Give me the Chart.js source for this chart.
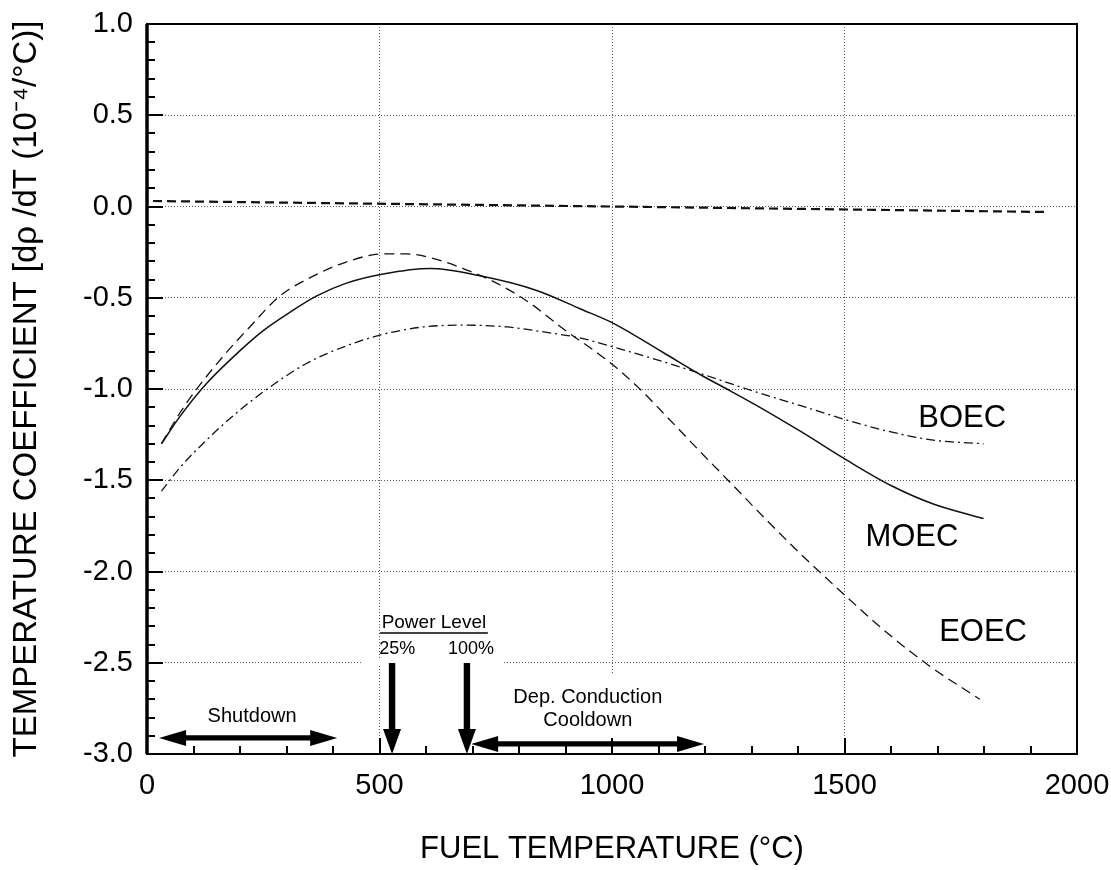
<!DOCTYPE html>
<html>
<head>
    <title>Fuel Temperature Coefficient</title>
    <script src="https://cdn.jsdelivr.net/npm/chart.js@4"></script>
    <style>
        body { margin: 0; background: #fff; }
        canvas { display: block; }
    </style>
</head>
<body>
    <canvas id="coefChart" width="1111" height="870"></canvas>

    <script>
        // values (fuel temperature in °C, coefficient in 1e-4/°C)
        const boecT = [31, 71, 128, 193, 264, 343, 422, 508, 594, 680, 774, 860, 931, 1003, 1110, 1196, 1290, 1404, 1505, 1591, 1691, 1799];
        const boecV = [-1.56, -1.43, -1.28, -1.13, -0.99, -0.86, -0.77, -0.70, -0.66, -0.65, -0.66, -0.69, -0.72, -0.77, -0.85, -0.92, -1.00, -1.09, -1.17, -1.23, -1.28, -1.30];

        const moecT = [31, 71, 128, 200, 250, 307, 365, 429, 508, 609, 716, 838, 931, 1003, 1110, 1196, 1247, 1304, 1404, 1505, 1601, 1691, 1799];
        const moecV = [-1.30, -1.15, -0.97, -0.79, -0.68, -0.58, -0.49, -0.42, -0.37, -0.34, -0.38, -0.46, -0.56, -0.64, -0.80, -0.93, -1.00, -1.08, -1.23, -1.39, -1.53, -1.63, -1.71];

        const eoecT = [31, 71, 107, 164, 221, 286, 351, 422, 508, 558, 609, 680, 752, 824, 895, 967, 1003, 1060, 1121, 1196, 1261, 1333, 1404, 1454, 1505, 1584, 1684, 1791];
        const eoecV = [-1.30, -1.13, -1.00, -0.82, -0.66, -0.49, -0.39, -0.31, -0.26, -0.26, -0.28, -0.34, -0.42, -0.53, -0.67, -0.80, -0.87, -1.00, -1.16, -1.36, -1.53, -1.72, -1.90, -2.02, -2.14, -2.32, -2.52, -2.70];

        const refT = [13, 1000, 1930];
        const refV = [0.03, 0.0, -0.03];

        const curveNames = ['BOEC', 'MOEC', 'EOEC'];

        const FONT = "'Liberation Sans', Arial, sans-serif";

        function pts(xs, ys) {
            return xs.map((x, i) => ({ x: x, y: ys[i] }));
        }

        // labels, arrows etc. are placed in data units and converted through the scales
        const overlay = {
            id: 'overlay',
            beforeDatasetsDraw(chart) {
                const ctx = chart.ctx;
                const xs = chart.scales.x, ys = chart.scales.y;
                ctx.save();
                ctx.fillStyle = '#fff';
                // breaks in the grid behind the annotations
                ctx.fillRect(xs.getPixelForValue(460), ys.getPixelForValue(-2.5) - 3, xs.getPixelForValue(766) - xs.getPixelForValue(460), 6);
                ctx.fillRect(xs.getPixelForValue(1000) - 2, ys.getPixelForValue(-2.567), 4, ys.getPixelForValue(-3) - ys.getPixelForValue(-2.567) - 2);
                ctx.restore();
            },
            afterDraw(chart) {
                const ctx = chart.ctx;
                const xs = chart.scales.x, ys = chart.scales.y;
                const a = chart.chartArea;
                const X = v => xs.getPixelForValue(v);
                const Y = v => ys.getPixelForValue(v);
                ctx.save();

                // inner tick marks
                ctx.strokeStyle = '#000';
                ctx.lineWidth = 2;
                ctx.beginPath();
                for (let i = 0; i <= 40; i++) {
                    const py = Math.round(Y(-3 + i * 0.1));
                    const len = i % 5 === 0 ? 16 : 8;
                    ctx.moveTo(a.left, py);
                    ctx.lineTo(a.left + len, py);
                }
                for (let i = 0; i <= 20; i++) {
                    const px = Math.round(X(i * 100));
                    const len = i % 5 === 0 ? 16 : 8;
                    ctx.moveTo(px, a.bottom);
                    ctx.lineTo(px, a.bottom - len);
                }
                ctx.stroke();

                // frame
                ctx.lineWidth = 2;
                ctx.strokeRect(a.left, a.top, a.right - a.left, a.bottom - a.top);
                ctx.lineWidth = 3.5;
                ctx.beginPath();
                ctx.moveTo(a.left, a.top);
                ctx.lineTo(a.left, a.bottom);
                ctx.stroke();

                // arrows
                ctx.fillStyle = '#000';
                function hArrow(x1, x2, y) {
                    const h = 27, w = 8, s = 2.6;
                    ctx.beginPath();
                    ctx.moveTo(x1, y);
                    ctx.lineTo(x1 + h, y - w);
                    ctx.lineTo(x1 + h, y - s);
                    ctx.lineTo(x2 - h, y - s);
                    ctx.lineTo(x2 - h, y - w);
                    ctx.lineTo(x2, y);
                    ctx.lineTo(x2 - h, y + w);
                    ctx.lineTo(x2 - h, y + s);
                    ctx.lineTo(x1 + h, y + s);
                    ctx.lineTo(x1 + h, y + w);
                    ctx.closePath();
                    ctx.fill();
                }
                function vArrow(x, y1, y2) {
                    const h = 25, w = 9, s = 3.2;
                    ctx.beginPath();
                    ctx.moveTo(x - s, y1);
                    ctx.lineTo(x + s, y1);
                    ctx.lineTo(x + s, y2 - h);
                    ctx.lineTo(x + w, y2 - h);
                    ctx.lineTo(x, y2);
                    ctx.lineTo(x - w, y2 - h);
                    ctx.lineTo(x - s, y2 - h);
                    ctx.closePath();
                    ctx.fill();
                }
                hArrow(X(26), X(409), Y(-2.912));
                hArrow(X(697), X(1198), Y(-2.945));
                vArrow(X(527), Y(-2.501), Y(-3.0));
                vArrow(X(688), Y(-2.501), Y(-3.0));

                // annotation texts
                ctx.textAlign = 'center';
                ctx.textBaseline = 'middle';
                ctx.font = '20px ' + FONT;
                ctx.fillText('Shutdown', X(226), Y(-2.797));
                ctx.fillText('Dep. Conduction', X(948), Y(-2.688));
                ctx.fillText('Cooldown', X(948), Y(-2.814));
                ctx.font = '19px ' + FONT;
                ctx.fillText('Power Level', X(617), Y(-2.282));
                ctx.lineWidth = 1.5;
                ctx.beginPath();
                ctx.moveTo(X(501), Y(-2.337));
                ctx.lineTo(X(733), Y(-2.337));
                ctx.stroke();
                ctx.font = '18px ' + FONT;
                ctx.fillText('25%', X(538), Y(-2.425));
                ctx.fillText('100%', X(697), Y(-2.425));

                // curve names
                ctx.font = '31px ' + FONT;
                ctx.fillText(curveNames[0], X(1753), Y(-1.164));
                ctx.fillText(curveNames[1], X(1645), Y(-1.816));
                ctx.fillText(curveNames[2], X(1798), Y(-2.332));

                ctx.restore();
            }
        };

        const ctx = document.getElementById('coefChart').getContext('2d');
        const chart = new Chart(ctx, {
            type: 'line',
            data: {
                datasets: [
                    {
                        label: curveNames[0],
                        data: pts(boecT, boecV),
                        borderColor: '#111',
                        borderWidth: 1.3,
                        borderDash: [9, 4, 2, 4],
                        pointRadius: 0,
                        cubicInterpolationMode: 'monotone'
                    },
                    {
                        label: curveNames[1],
                        data: pts(moecT, moecV),
                        borderColor: '#111',
                        borderWidth: 1.5,
                        pointRadius: 0,
                        cubicInterpolationMode: 'monotone'
                    },
                    {
                        label: curveNames[2],
                        data: pts(eoecT, eoecV),
                        borderColor: '#111',
                        borderWidth: 1.3,
                        borderDash: [10, 6],
                        pointRadius: 0,
                        cubicInterpolationMode: 'monotone'
                    },
                    {
                        label: 'reference',
                        data: pts(refT, refV),
                        borderColor: '#111',
                        borderWidth: 2.2,
                        borderDash: [9, 5],
                        pointRadius: 0,
                        tension: 0
                    }
                ]
            },
            options: {
                responsive: false,
                animation: false,
                layout: { padding: { top: 24, right: 34, left: 0, bottom: 0 } },
                plugins: {
                    legend: { display: false },
                    tooltip: { enabled: false }
                },
                scales: {
                    x: {
                        type: 'linear',
                        min: 0,
                        max: 2000,
                        afterFit: s => {
                            s.height = 116;
                            s.paddingLeft = 0;
                            s.paddingRight = 0;
                        },
                        ticks: {
                            stepSize: 500,
                            autoSkip: false,
                            maxRotation: 0,
                            padding: 15,
                            color: '#000',
                            font: { family: FONT, size: 29 },
                            callback: v => String(v)
                        },
                        grid: {
                            drawTicks: false,
                            color: '#555',
                            lineWidth: 1
                        },
                        border: { display: false, dash: [1, 2] },
                        title: {
                            display: true,
                            text: 'FUEL TEMPERATURE (°C)',
                            color: '#000',
                            font: { family: FONT, size: 31 },
                            padding: { top: 0, bottom: 2 }
                        }
                    },
                    y: {
                        min: -3,
                        max: 1,
                        afterFit: s => {
                            s.width = 147;
                            s.paddingTop = 0;
                            s.paddingBottom = 0;
                        },
                        ticks: {
                            stepSize: 0.5,
                            autoSkip: false,
                            padding: 14,
                            color: '#000',
                            font: { family: FONT, size: 29 },
                            callback: v => v.toFixed(1)
                        },
                        grid: {
                            drawTicks: false,
                            color: '#555',
                            lineWidth: 1
                        },
                        border: { display: false, dash: [1, 2] },
                        title: {
                            display: true,
                            text: 'TEMPERATURE COEFFICIENT [dρ /dT (10⁻⁴/°C)]',
                            color: '#000',
                            font: { family: FONT, size: 33 },
                            padding: { top: 7, bottom: 0 }
                        }
                    }
                }
            },
            plugins: [overlay]
        });
    </script>
</body>
</html>
